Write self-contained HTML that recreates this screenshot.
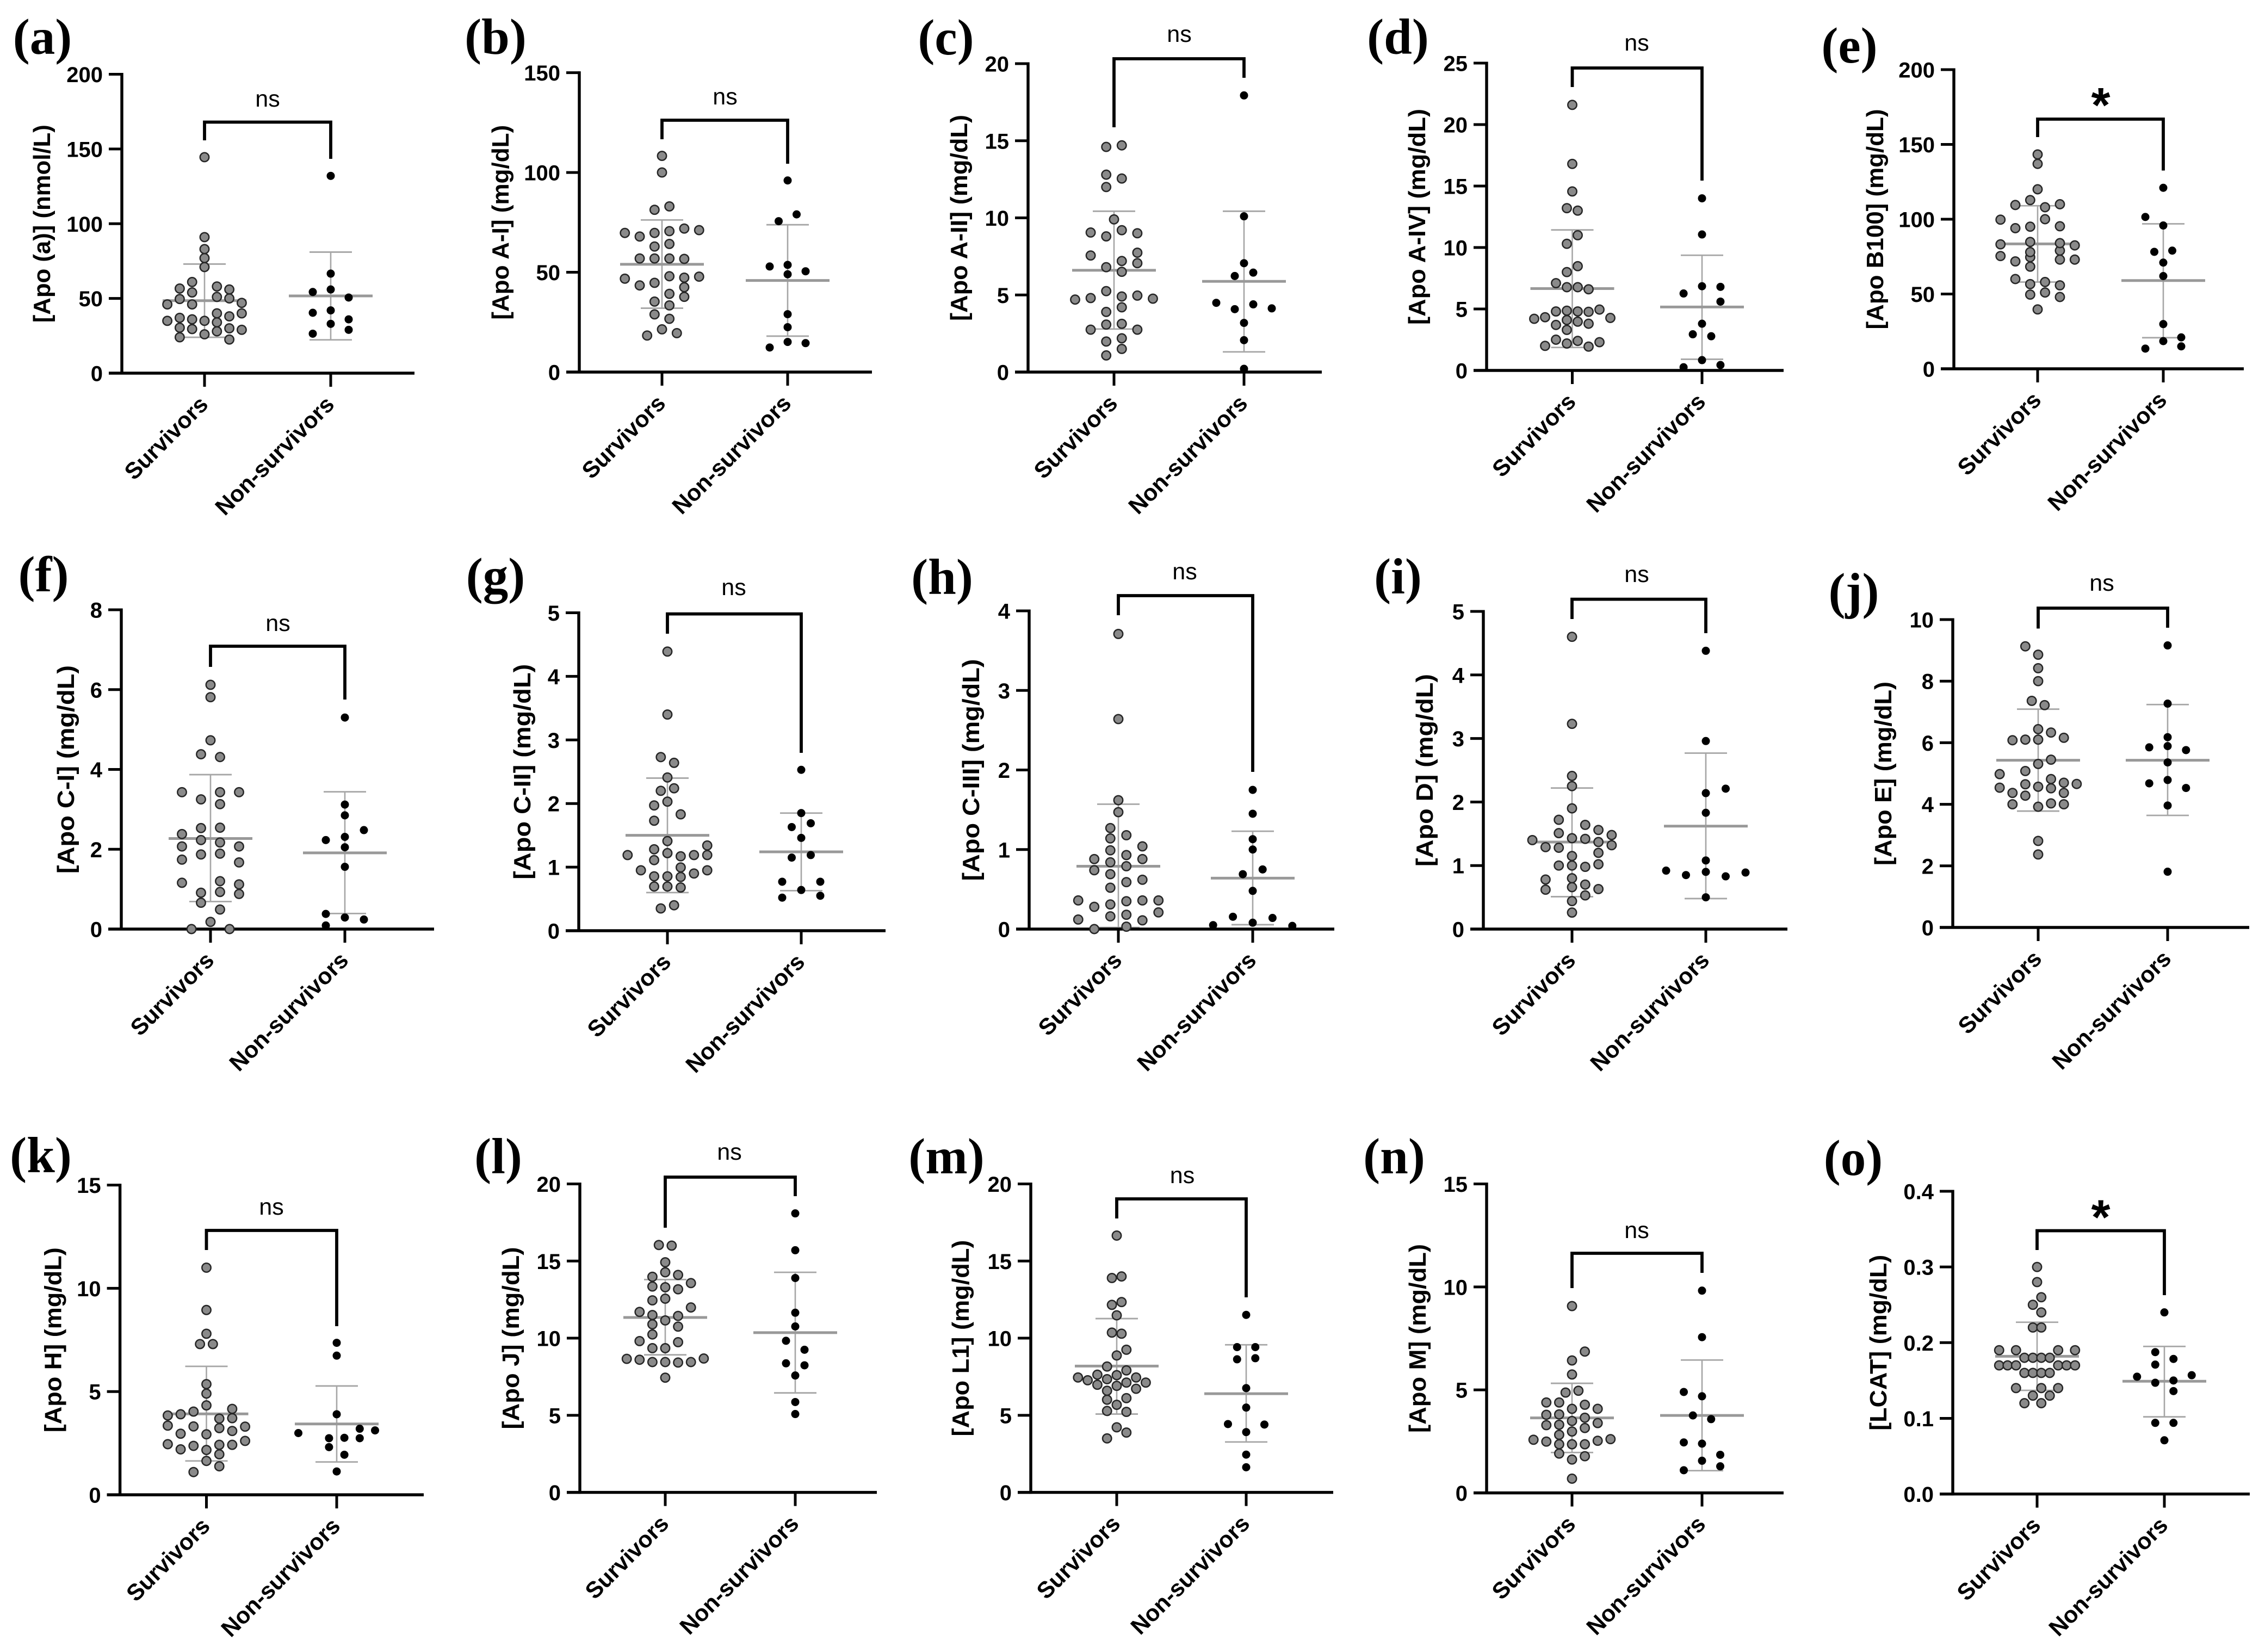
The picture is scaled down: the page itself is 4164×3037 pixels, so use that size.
<!DOCTYPE html>
<html lang="en">
<head>
<meta charset="utf-8">
<title>Apolipoprotein levels in survivors and non-survivors</title>
<style>
html,body{margin:0;padding:0;background:#fff;}
#figure{display:block;width:4164px;height:3037px;background:#fff;}
</style>
</head>
<body>
<svg id="figure" xmlns="http://www.w3.org/2000/svg" width="4164" height="3037" viewBox="0 0 4164 3037"></svg>
<script>
const categories = ['Survivors', 'Non-survivors'];
const panelLetters = ['a','b','c','d','e','f','g','h','i','j','k','l','m','n','o'];
const yAxisTitles = ['[Apo (a)] (nmol/L)','[Apo A-I] (mg/dL)','[Apo A-II] (mg/dL)','[Apo A-IV] (mg/dL)','[Apo B100] (mg/dL)','[Apo C-I] (mg/dL)','[Apo C-II] (mg/dL)','[Apo C-III] (mg/dL)','[Apo D] (mg/dL)','[Apo E] (mg/dL)','[Apo H] (mg/dL)','[Apo J] (mg/dL)','[Apo L1] (mg/dL)','[Apo M] (mg/dL)','[LCAT] (mg/dL)'];
const yTickLabels = [
  ['0','50','100','150','200'],['0','50','100','150'],['0','5','10','15','20'],['0','5','10','15','20','25'],['0','50','100','150','200'],
  ['0','2','4','6','8'],['0','1','2','3','4','5'],['0','1','2','3','4'],['0','1','2','3','4','5'],['0','2','4','6','8','10'],
  ['0','5','10','15'],['0','5','10','15','20'],['0','5','10','15','20'],['0','5','10','15'],['0.0','0.1','0.2','0.3','0.4']
];
const significance = ['ns','ns','ns','ns','*','ns','ns','ns','ns','ns','ns','ns','ns','ns','*'];

const survivorMeans = [48.5,54,6.6,6.66,83.5,2.27,1.5,0.79,1.37,5.43,3.92,11.34,8.19,3.64,0.182];
const survivorSdUpper = [73,76.2,10.43,11.43,109,3.87,2.4,1.57,2.22,7.09,6.22,13.8,11.27,5.32,0.227];
const survivorSdLower = [24,32,2.79,1.87,58,0.69,0.6,0.02,0.51,3.78,1.64,8.92,5.08,1.96,0.137];
const nonSurvivorMeans = [51.7,45.9,5.88,5.16,59,1.91,1.24,0.64,1.62,5.43,3.43,10.36,6.4,3.76,0.149];
const nonSurvivorSdUpper = [81,73.8,10.43,9.37,96.9,3.44,1.85,1.23,2.77,7.24,5.27,14.27,9.57,6.45,0.195];
const nonSurvivorSdLower = [22.3,18,1.31,0.91,20.8,0.39,0.63,0.055,0.48,3.64,1.59,6.45,3.27,1.08,0.102];

/* Swarm rows: each inner array is one row, read left to right; null is an empty slot. */
const survivorsA = [[24,null,26,null,22.5],[null,30.4,29.5,null,28,30,29],[35,37,36,35,34,38,40],[null,null,40],[46,49.6,46,null,51,50,47],[56.6,54,null,58,56],[61,null,null],[71],[77],[83],[91],[144.5]];
const nonSurvivorsA = [[26.4,33,29],[40.4,42,36],[54.3,56,50.6],[66.6],[132]];
const survivorsB = [[18.3,21.4,19.5],[28.9,26.7],[35.3,33.4],[null,null,39.2,37.7],[null,null,null,42.5],[46.8,43.4,44.7,48,47.3,47.8],[56.9,56.9,56.9,56.7],[62.9,64.2],[69.7,67.9,69.7,70.6,71.9,71.1],[81.3,83],[100],[108.3]];
const nonSurvivorsB = [[12.3,15.1,14.5],[22.5],[29],[49],[52.9,53.7,50.5],[75.6,79],[96]];
const survivorsC = [[1.08,1.5],[1.98,2.19],[2.75,3.08,3.13,2.75],[3.9,4.2],[4.7,4.8,5.25,4.9,4.96,4.76],[6.8,6.5],[7.56,null,7.2,7.06],[null,null,null,7.74],[9.05,8.8,9.2,9],[9.9],[12,null],[12.8,12.55],[14.6,14.7]];
const nonSurvivorsC = [[0.21],[2.07],[3.19],[4.49,4.08,4.39,4.13],[6.23,6.45],[7.06],[10.1],[17.94]];
const survivorsD = [[2,2.5,2.19,2.4,1.94,2.3],[3.3,null],[3.7,null,null,3.8],[4.2,4.33,null,4.1,3.97,null,null,4.27],[null,4.8,4.86,4.8,4.77,4.95],[7.1,6.77,6.77,6.6],[8,8.48],[10.3,11],[13.2,13],[14.56],[16.8],[21.6]];
const nonSurvivorsD = [[0.26,0.84,0.44],[2.94,2.78],[3.8],[null,null,5.6],[6.26,6.85,6.8],[11.06],[14]];
const survivorsE = [[39.7],[null,49.6,51,48],[60,56.6,58,55.8],[68.3,null],[75.4,71.8,74.6,null,73,73],[null,78,null,79],[83.2,null,84.8,null,84,82.5],[94,95,100,95.3],[99.7,null,null,null,null,null],[109.5,112.8,108,110],[120],[137],[143.3]];
const nonSurvivorsE = [[13.5,18.5,15],[null,null,21],[29.9],[62],[71],[78.2,79],[101.5,95.8,null],[121]];
const survivorsF = [[0,0.18,0],[null,0.49],[0.66,null],[null,0.91,0.93,0.88],[1.16,null,1.2,1.12],[1.74,1.87,1.89,1.67],[2.07,2.23,2.17,2.07],[2.38,2.53,2.54,null],[3.43,3.25,3.43,3.43],[null,3.13],[4.38,4.31],[4.73],[5.81],[6.12]];
const nonSurvivorsF = [[0.09,null,null],[0.38,0.29,0.24],[1.56],[2.05],[2.23,2.31,2.48],[2.85],[3.12],[5.3]];
const survivorsG = [[0.35,0.4],[0.695,0.695,0.68],[null,0.95,0.855,0.855,0.845,0.9,0.95],[null,null,0.995],[1.19,null,1.11,null,1.17,1.19,1.19],[null,null,1.28,1.22,null,null,1.34],[1.41],[1.73,null,null],[null,null,1.83],[1.97,2.03,null],[2.2,2.24],[2.41],[2.73,2.64],[3.4],[4.39]];
const nonSurvivorsG = [[0.52,null,0.55],[0.77,0.64,0.77],[1.15,1.19],[1.46],[1.63,1.69],[1.85],[2.53]];
const survivorsH = [[null,0,null,0.03,null,null],[0.12,null,0.16,0.18,0.11,0.21],[0.36,0.28,0.31,0.35,0.36,0.36],[0.52,null],[null,0.69,0.59,0.62],[0.74,0.84,0.79,0.88],[0.88,null,0.93,null],[null,0.99,null,1.04],[1.14,1.18],[1.27,null],[1.47],[1.62],[2.64],[3.71]];
const nonSurvivorsH = [[0.05,0.155,0.08,0.14,0.04],[0.48],[0.69,0.75],[1],[1.13],[1.45],[1.75]];
const survivorsI = [[0.26],[0.44],[null,null,0.53],[0.62,null,0.66,null,0.63],[0.78,null,0.8,0.7,null],[null,1,1,0.98,1.02],[1.15],[null,1.29,1.28,null,null,1.2,1.32],[1.4,null,1.51,1.43,1.42,1.37,1.48],[null,1.72,null,1.64,1.56],[1.9],[2.25],[2.41],[3.23],[4.6]];
const nonSurvivorsI = [[0.5],[0.92,0.85,0.9,0.83,0.89],[1.08],[1.83],[null,2.14,2.21],[2.96],[4.38]];
const survivorsJ = [[2.37],[2.81],[4,null,3.92,4.03,4],[4.54,4.37,4.28,4.57,4.52,4.37,4.66],[null,null,4.65,null,4.82,4.7,null],[4.98,null,5.08,5.31,5.45,null,null],[6.08,6.1,6.1,6.33,6.16],[6.44],[7.36,7.22],[8],[8.42],[8.86],[9.13,null,null]];
const nonSurvivorsJ = [[1.81],[3.96],[4.68,4.79,4.53],[5.36],[5.85,5.89,5.76],[6.18],[7.27],[9.16]];
const survivorsK = [[1.1,null,null],[null,1.64,1.38],[2.2,null,2.17,1.96,null],[2.45,null,2.37,null,2.42,2.42,2.61],[null,2.96,null,2.93,null,3.09,null],[3.35,null,3.31,null,3.23,null,3.3],[3.84,3.9,4.03,null,3.69,3.71,null],[null,null,4.33,null,4.16],[4.9],[5.36],[7.3,7.3],[7.8],[8.95],[11]];
const nonSurvivorsK = [[1.13],[null,1.94],[2.31,null],[2.99,null,2.74,2.76,2.74,3.12],[null,null,null,3.2],[3.9],[6.74],[7.36]];
const survivorsL = [[7.44],[8.66,8.6,8.45,8.45,8.42,8.45,8.68],[9.81,9.35,9.35,9.74,null],[10.24,null,null],[10.9,null,10.75],[11.7,11.5,11.15,11.44,11.99],[12.45,12.56,null],[null,13.35,13.3,13.17,13.57],[13.98,14.27,14.1],[14.92],[16.04,16]];
const nonSurvivorsL = [[5.08],[5.86],[7.58],[8.37,8.24],[null,9.25],[9.83,null],[10.76],[11.65],[13.9],[15.7],[18.09]];
const survivorsM = [[3.5,4.22,3.88],[5.28,5.68,5.22],[6.01,null,6.11],[null,6.59,6.91,null,6.72],[null,6.98,null,null,7.12,null,7.12],[7.45,7.27,null,7.34,7.6,null,7.45,null,null],[7.63,null,null,7.91,null],[8.16,null,null],[null,8.88,9.25],[10.36,10.29],[11.48],[12.16,12.34],[13.9,14],[16.65]];
const nonSurvivorsM = [[1.63],[2.45],[3.91],[4.43,null,4.4],[5.5],[6.76],[8.63,8.7],[9.42,9.42],[11.51]];
const survivorsN = [[0.69],[1.91,1.62,1.78],[2.58,2.49,2.36,2.36,2.36,2.53,2.61],[2.82,2.98,3.15],[3.29,3.31,3.49,3.65,3.39],[3.79,3.81,4.08,4.28,4.08],[4.39,4.39,null,null,null],[4.87,4.96],[5.75],[6.43],[null,null,6.86],[9.07]];
const nonSurvivorsN = [[1.1,1.56,1.29],[null,null,1.85],[2.45,2.39,null],[3.76,3.58],[4.9,4.69,null],[7.56],[9.82]];
const survivorsO = [[0.12,null,0.12,null],[null,0.13,null,0.13],[0.14,null,null,0.14,null,0.14],[0.16,0.16,0.16,0.16],[0.17,0.17,0.17,null,null,null,null,0.17,0.17,0.17],[0.18,0.18,0.18,0.18],[0.19,null,0.19,null,null,null,null,0.19,null,0.19],[0.22,0.22],[0.25,0.24],[null,0.26],[0.28],[0.3]];
const nonSurvivorsO = [[0.071],[0.094,0.094],[null,0.136],[0.155,0.147,0.15,0.157],[0.171,null],[null,0.1785],[0.1875,null],[0.24]];

const survivorRows = [survivorsA,survivorsB,survivorsC,survivorsD,survivorsE,survivorsF,survivorsG,survivorsH,survivorsI,survivorsJ,survivorsK,survivorsL,survivorsM,survivorsN,survivorsO];
const nonSurvivorRows = [nonSurvivorsA,nonSurvivorsB,nonSurvivorsC,nonSurvivorsD,nonSurvivorsE,nonSurvivorsF,nonSurvivorsG,nonSurvivorsH,nonSurvivorsI,nonSurvivorsJ,nonSurvivorsK,nonSurvivorsL,nonSurvivorsM,nonSurvivorsN,nonSurvivorsO];

/* Page layout only (pixels); no data values here. */
const layout = [
 {ax:224,top:136.5,y0:686,end:762,t1:376,t2:608,br:224.5,brL:258,brR:292,sx:492,sy:183,title:-132,tl:364,lx:78,ly:99,su:22.8,nu:33},
 {ax:1065,top:133.6,y0:684,end:1603,t1:1217,t2:1448,br:221,brL:256,brR:301,sx:1333,sy:179,title:-130,tl:358,lx:911,ly:99,su:27.3,nu:33},
 {ax:1890,top:117,y0:684,end:2430,t1:2048,t2:2287,br:108,brL:234,brR:143,sx:2168,sy:64,title:-112,tl:379,lx:1739,ly:100,su:28.6,nu:34},
 {ax:2733,top:116,y0:681,end:3279,t1:2890.5,t2:3129,br:125,brL:160,brR:332,sx:3009,sy:80,title:-113,tl:397,lx:2570,ly:99,su:20,nu:33.9},
 {ax:3592,top:128,y0:678,end:4125,t1:3746,t2:3977,br:219,brL:252,brR:313.5,sx:3862,sy:181,title:-130,tl:405,lx:3400,ly:115,su:27.3,nu:33},
 {ax:223,top:1121,y0:1708,end:798,t1:387,t2:634,br:1188,brL:1226,brR:1286,sx:511,sy:1147,title:-87,tl:383,lx:80,ly:1087,su:35,nu:35},
 {ax:1064,top:1126.5,y0:1711,end:1628,t1:1227,t2:1473,br:1128.6,brL:1165,brR:1384,sx:1349,sy:1081,title:-89,tl:396,lx:911,ly:1090,su:24.4,nu:35},
 {ax:1892,top:1123,y0:1708,end:2453,t1:2056,t2:2303,br:1095,brL:1131,brR:1419,sx:2178,sy:1052,title:-92,tl:408,lx:1732,ly:1092,su:29.5,nu:36.4},
 {ax:2727,top:1124,y0:1708,end:3286,t1:2890,t2:3136,br:1101.6,brL:1138,brR:1164,sx:3009,sy:1057,title:-93,tl:354,lx:2570,ly:1091,su:24.3,nu:36.5},
 {ax:3590,top:1139,y0:1705,end:4135,t1:3747,t2:3985,br:1118,brL:1155.5,brR:1154,sx:3864,sy:1073,title:-113,tl:338,lx:3408,ly:1118,su:23.6,nu:33.8},
 {ax:220.6,top:2178.6,y0:2748,end:779,t1:379.5,t2:619,br:2262,brL:2298,brR:2438,sx:499,sy:2220,title:-108,tl:340,lx:75,ly:2155,su:23.7,nu:28.2},
 {ax:1066,top:2176.5,y0:2743.6,end:1612,t1:1223,t2:1462,br:2164,brL:2257,brR:2199,sx:1341,sy:2119,title:-112,tl:335,lx:916,ly:2157,su:23.6,nu:34},
 {ax:1895,top:2176.5,y0:2743.6,end:2451,t1:2053,t2:2291,br:2204,brL:2240,brR:2385,sx:2173.5,sy:2162,title:-114,tl:361,lx:1740,ly:2157,su:17.8,nu:33.5},
 {ax:2733,top:2176.5,y0:2744.5,end:3279,t1:2890,t2:3129,br:2304,brL:2368,brR:2340,sx:3009,sy:2263,title:-112,tl:347,lx:2563,ly:2157,su:23.6,nu:33.5},
 {ax:3590,top:2190,y0:2746.6,end:4136,t1:3745,t2:3979,br:2262.5,brL:2298,brR:2381,sx:3862,sy:2225.5,title:-122,tl:323,lx:3407,ly:2160,su:15.5,nu:33.5}
];

const SANS = '"Liberation Sans", Arial, sans-serif';
const SERIF = '"Liberation Serif", "Times New Roman", serif';
const svgNS = 'http://www.w3.org/2000/svg';
const figure = document.getElementById('figure');

function make(tag, parent, attrs) {
  const node = document.createElementNS(svgNS, tag);
  for (const key in attrs) node.setAttribute(key, attrs[key]);
  parent.appendChild(node);
  return node;
}
function segment(parent, x1, y1, x2, y2, stroke, width) {
  return make('line', parent, {x1: x1, y1: y1, x2: x2, y2: y2, stroke: stroke, 'stroke-width': width});
}
function yScale(frame, maxValue) {
  return function (v) { return frame.y0 - (v / maxValue) * (frame.y0 - frame.top); };
}

function drawSummary(group, cx, mean, upper, lower, y) {
  let el = segment(group, cx, y(upper), cx, y(lower), '#a6a6a6', 2.6);
  
  
  el = segment(group, cx - 39, y(upper), cx + 39, y(upper), '#a6a6a6', 2.8);
  
  
  el = segment(group, cx - 39, y(lower), cx + 39, y(lower), '#a6a6a6', 2.8);
  
  
  el = segment(group, cx - 77, y(mean), cx + 77, y(mean), '#999999', 5);
  
  
}

function drawSwarm(group, rows, cx, unit, y, isSurvivor) {
  rows.forEach(function (row) {
    row.forEach(function (value, index) {
      if (value === null) return;
      const px = cx + (index - (row.length - 1) / 2) * unit;
      const dot = make('circle', group, {cx: px, cy: y(value), r: isSurvivor ? 8.2 : 7.5,
        fill: isSurvivor ? '#8a8a8a' : '#000000',
        stroke: isSurvivor ? '#262626' : 'none', 'stroke-width': isSurvivor ? 2.5 : 0});
      
      
    });
  });
}

panelLetters.forEach(function (letter, p) {
  const f = layout[p];
  const ticks = yTickLabels[p];
  const maxValue = parseFloat(ticks[ticks.length - 1]);
  const y = yScale(f, maxValue);

  const panel = make('g', figure, {});
  
  

  const tag = make('text', panel, {x: f.lx, y: f.ly, 'text-anchor': 'middle', 'font-family': SERIF, 'font-weight': '700', 'font-size': 93, fill: '#000'});
  tag.textContent = '(' + letter + ')';
  
  

  const title = make('text', panel, {x: f.ax + f.title, y: (f.top + f.y0) / 2, 'text-anchor': 'middle',
    transform: 'rotate(-90 ' + (f.ax + f.title) + ' ' + ((f.top + f.y0) / 2) + ')',
    textLength: f.tl, lengthAdjust: 'spacingAndGlyphs',
    'font-family': SANS, 'font-weight': '700', 'font-size': 43.5, fill: '#000'});
  title.textContent = yAxisTitles[p];
  
  

  drawSummary(panel, f.t1, survivorMeans[p], survivorSdUpper[p], survivorSdLower[p], y);
  drawSummary(panel, f.t2, nonSurvivorMeans[p], nonSurvivorSdUpper[p], nonSurvivorSdLower[p], y);

  const yAxis = segment(panel, f.ax, f.top - 2.5, f.ax, f.y0 + 2.5, '#000', 5.4);
  
  
  const xAxis = segment(panel, f.ax - 24, f.y0, f.end, f.y0, '#000', 5.4);
  
  

  ticks.forEach(function (label) {
    const ty = y(parseFloat(label));
    const mark = segment(panel, f.ax - 24, ty, f.ax, ty, '#000', 5);
    
    
    const text = make('text', panel, {x: f.ax - 35, y: ty + 14.5, 'text-anchor': 'end', 'font-family': SANS, 'font-weight': '700', 'font-size': 40, fill: '#000'});
    text.textContent = label;
    
    
  });

  [f.t1, f.t2].forEach(function (tx, c) {
    const mark = segment(panel, tx, f.y0, tx, f.y0 + 25, '#000', 5);
    
    
    const ex = tx + 9;
    const ey = f.y0 + 60;
    const text = make('text', panel, {x: ex, y: ey, 'text-anchor': 'end', transform: 'rotate(-45 ' + ex + ' ' + ey + ')',
      'font-family': SANS, 'font-weight': '700', 'font-size': 42.5, fill: '#000'});
    text.textContent = categories[c];
    
    
  });

  drawSwarm(panel, survivorRows[p], f.t1, f.su, y, true);
  drawSwarm(panel, nonSurvivorRows[p], f.t2, f.nu, y, false);

  const bracket = make('path', panel, {d: 'M' + f.t1 + ' ' + f.brL + 'V' + f.br + 'H' + f.t2 + 'V' + f.brR, fill: 'none', stroke: '#000', 'stroke-width': 5.8});
  
  

  const isStar = significance[p] === '*';
  const sig = make('text', panel, {x: f.sx, y: f.sy + (isStar ? 43 : 13), 'text-anchor': 'middle', 'font-family': SANS,
    'font-weight': isStar ? '700' : '400', 'font-size': isStar ? 90 : 43, fill: '#000'});
  sig.textContent = significance[p];
  
  
});
</script>
</body>
</html>
